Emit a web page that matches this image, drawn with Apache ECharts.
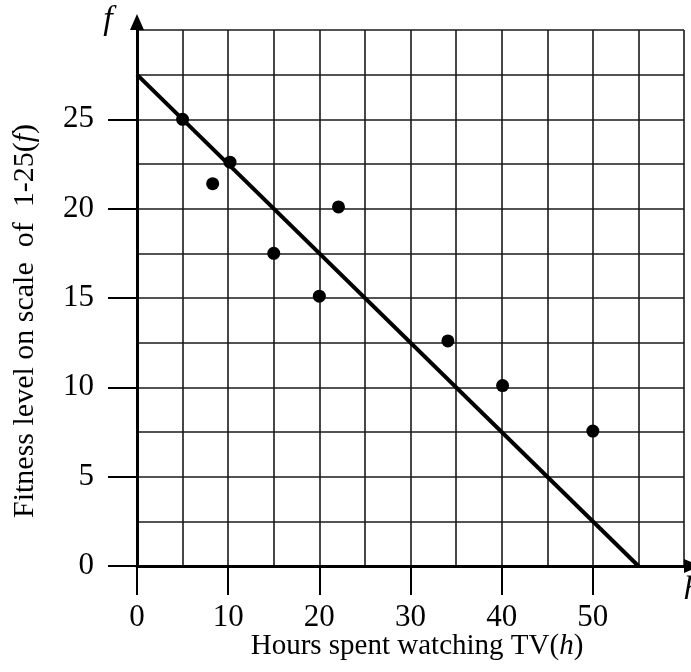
<!DOCTYPE html>
<html><head><meta charset="utf-8">
<script src="https://cdn.jsdelivr.net/npm/echarts@6/dist/echarts.min.js"></script>
<style>html,body{margin:0;padding:0;background:#fff}#c{width:691px;height:672px}</style>
</head><body><div id="c"></div>
<script>
const hours = [5, 8.3, 10.2, 15, 20, 22.1, 34.1, 40.1, 50];
const fitness = [25, 21.4, 22.6, 17.5, 15.1, 20.1, 12.6, 10.1, 7.55];
const fitLineX = [0, 55];
const fitLineY = [27.5, 0];
const xTickLabels = [0, 10, 20, 30, 40, 50];
const yTickLabels = [0, 5, 10, 15, 20, 25];
const xTitle = 'Hours spent watching TV(';
const yTitle = 'Fitness level on scale  of  1-25(';

const font = 'Liberation Serif';
const chart = echarts.init(document.getElementById('c'));
const grid = {left: 137, top: 30, width: 547, height: 536};
chart.setOption({
  animation: false,
  grid: grid,
  xAxis: [
    {type: 'value', min: 0, max: 60, interval: 5, gridIndex: 0,
     axisLine: {onZero: false, lineStyle: {color: '#000', width: 3}, symbol: ['none', 'triangle'], symbolSize: [14, 16], symbolOffset: [0, 8]},
     axisTick: {show: false}, axisLabel: {show: false},
     splitLine: {show: true, lineStyle: {color: '#1a1a1a', width: 1.6}}},
    {type: 'value', min: 0, max: 60, interval: 10, gridIndex: 0, position: 'bottom',
     axisLine: {show: false},
     axisTick: {show: true, inside: false, length: 29, lineStyle: {color: '#000', width: 2}, customValues: xTickLabels},
     axisLabel: {show: true, margin: 36, fontFamily: font, fontSize: 31, color: '#000', customValues: xTickLabels},
     splitLine: {show: false}}
  ],
  yAxis: [
    {type: 'value', min: 0, max: 30, interval: 2.5, gridIndex: 0,
     axisLine: {onZero: false, lineStyle: {color: '#000', width: 3}, symbol: ['none', 'triangle'], symbolSize: [14, 16], symbolOffset: [0, 8]},
     axisTick: {show: false}, axisLabel: {show: false},
     splitLine: {show: true, lineStyle: {color: '#1a1a1a', width: 1.6}}},
    {type: 'value', min: 0, max: 30, interval: 5, gridIndex: 0, position: 'left',
     axisLine: {show: false},
     axisTick: {show: true, inside: false, length: 29, lineStyle: {color: '#000', width: 2}, customValues: yTickLabels},
     axisLabel: {show: true, margin: 43, fontFamily: font, fontSize: 31, color: '#000', customValues: yTickLabels},
     splitLine: {show: false}}
  ],
  graphic: [
    {type: 'text', x: 108, y: 20, style: {text: 'f', font: 'italic 34px "Liberation Serif"', fill: '#000', align: 'center', verticalAlign: 'middle'}},
    {type: 'text', x: 692, y: 590, style: {text: 'h', font: 'italic 34px "Liberation Serif"', fill: '#000', align: 'center', verticalAlign: 'middle'}},
    {type: 'text', x: 417, y: 646, style: {text: xTitle + '{i|h})', rich: {i: {fontFamily: font, fontSize: 29, fontStyle: 'italic', fill: '#000'}}, fontFamily: font, fontSize: 29, fill: '#000', align: 'center', verticalAlign: 'middle'}},
    {type: 'text', x: 25, y: 321, rotation: Math.PI / 2, style: {text: yTitle + '{i|f})', rich: {i: {fontFamily: font, fontSize: 30, fontStyle: 'italic', fill: '#000'}}, fontFamily: font, fontSize: 30, fill: '#000', align: 'center', verticalAlign: 'middle'}}
  ],
  series: [
    {type: 'line', xAxisIndex: 0, yAxisIndex: 0, data: fitLineX.map((x, i) => [x, fitLineY[i]]),
     symbol: 'none', lineStyle: {color: '#000', width: 4}, z: 3},
    {type: 'scatter', xAxisIndex: 0, yAxisIndex: 0, data: hours.map((h, i) => [h, fitness[i]]),
     symbol: 'circle', symbolSize: 13, itemStyle: {color: '#000', opacity: 1}, z: 4}
  ]
});
</script></body></html>
